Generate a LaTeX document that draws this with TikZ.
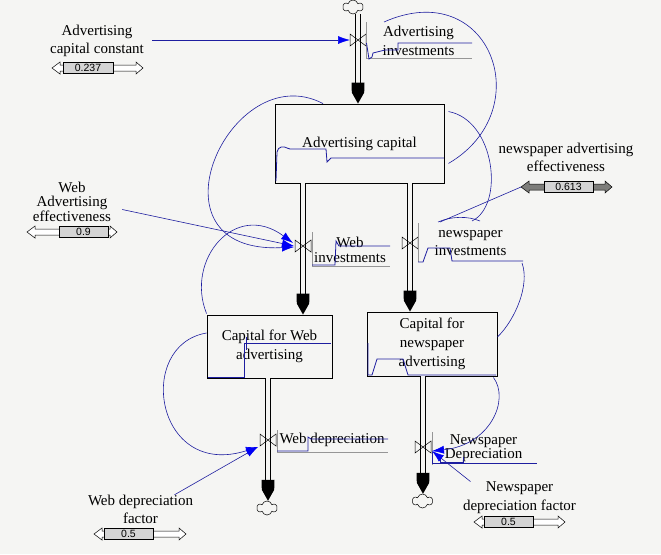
\documentclass[tikz,border=0pt]{standalone}
\usepackage{fontspec}
\setmainfont{Liberation Serif}
\newfontfamily\numfont{Liberation Sans}
\usetikzlibrary{arrows.meta,shapes.symbols,calc}
\definecolor{bg}{RGB}{245,245,243}
\definecolor{connc}{RGB}{30,30,160}
\definecolor{arrblue}{RGB}{0,0,245}
\definecolor{framec}{RGB}{150,150,150}
\definecolor{sbox}{RGB}{212,212,212}
\definecolor{darkarr}{RGB}{125,125,122}
\tikzset{
  stock/.style={draw=black, line width=0.9pt, fill=bg, inner sep=0pt, align=center, font=\fontsize{15}{19}\selectfont},
  lbl/.style={inner sep=0pt, align=center, font=\fontsize{15}{18.5}\selectfont},
  pipe/.style={draw=black, line width=1pt, double=bg, double distance=3.2pt},
  pipetip/.pic={\fill[black] (-6.5,-21) -- (6.5,-21) -- (6.2,-11) -- (0,0) -- (-6.2,-11) -- cycle;},
  connector/.style={draw=connc, line width=0.6pt},
  arrowed/.style={connector, -{Latex[length=12pt,width=8pt,color=arrblue]}},
  graphline/.style={draw=connc, line width=0.8pt},
  graphframe/.style={draw=framec, line width=0.6pt},
  sourcecloud/.style={cloud, cloud puffs=6, draw=black, line width=0.5pt, fill=bg, minimum width=20pt, minimum height=14pt, inner sep=0pt, aspect=1.4},
  valve/.pic={\draw[black, line width=0.5pt] (-8,-6) -- (8,6) -- (8,-6) -- (-8,6) -- cycle;},
  slidernum/.style={draw=black, line width=0.5pt, fill=sbox, inner sep=0pt, minimum height=11pt, font=\numfont\fontsize{10.5}{12}\selectfont},
}
\newcommand\mkslider[8]{%
  \draw[line width=0.5pt, fill=#8] (#2,#4) -- (#2+8,#4-6) -- (#2+8,#4-3) -- (#3-7,#4-3) -- (#3-7,#4-6) -- (#3,#4) -- (#3-7,#4+6) -- (#3-7,#4+3) -- (#2+8,#4+3) -- (#2+8,#4+6) -- cycle;
  \coordinate (#1tip) at (#2,#4);
  \node[slidernum, minimum width={(#6-#5)*1pt}] (#1) at ({(#5+#6)/2},#4) {#7};
}
\begin{document}
\begin{tikzpicture}[x=1pt,y=-1pt]
\fill[bg] (0,0) rectangle (661,554);
\useasboundingbox (0,0) rectangle (661,554);

% stocks
\node[stock, minimum width=169pt, minimum height=79pt] (AC) at (359.5,143.5) {Advertising capital};
\node[stock, minimum width=125pt, minimum height=63pt] (CW) at (269.5,346.5) {Capital for Web\\advertising};
\node[stock, minimum width=130pt, minimum height=64pt] (CN) at (432,344) {Capital for\\newspaper\\advertising};

% valves
\coordinate (vAI) at (358,40);
\coordinate (vWI) at (303,246);
\coordinate (vNI) at (410,243);
\coordinate (vWD) at (268,440);
\coordinate (vND) at (423,447);

% clouds
\node[sourcecloud] (cT) at (353,7) {};
\node[sourcecloud] (cW) at (267,508) {};
\node[sourcecloud] (cN) at (422.5,501) {};

% pipes
\draw[pipe] (vAI |- cT.south) -- ($(vAI |- AC.north)+(0,-18)$);
\pic at (vAI |- AC.north) {pipetip};
\draw[pipe] (vWI |- AC.south) -- ($(vWI |- CW.north)+(0,-18)$);
\pic at (vWI |- CW.north) {pipetip};
\draw[pipe] (vNI |- AC.south) -- ($(vNI |- CN.north)+(0,-18)$);
\pic at (vNI |- CN.north) {pipetip};
\draw[pipe] (vWD |- CW.south) -- ($(vWD |- cW.north)+(0,-18)$);
\pic at (vWD |- cW.north) {pipetip};
\draw[pipe] (vND |- CN.south) -- ($(vND |- cN.north)+(0,-18)$);
\pic at (vND |- cN.north) {pipetip};

\pic at (vAI) {valve};
\pic at (vWI) {valve};
\pic at (vNI) {valve};
\pic at (vWD) {valve};
\pic at (vND) {valve};

% labels
\node[lbl] (accL) at (97,41) {Advertising\\capital constant};
\node[lbl, font=\fontsize{15}{14.5}\selectfont] (waeL) at (72,201.5) {Web\\Advertising\\effectiveness};
\node[lbl] (naeL) at (566,157.5) {newspaper advertising\\effectiveness};
\node[lbl] (aiL) at (418.5,41) {Advertising\\investments};
\node[lbl, font=\fontsize{15}{15}\selectfont] (wiL) at (350,249.5) {Web\\investments};
\node[lbl] (niL) at (470.5,243) {newspaper\\investments};
\node[lbl] (wdL) at (332,440) {Web depreciation};
\node[lbl, font=\fontsize{15}{13}\selectfont] (ndL) at (483.5,448.5) {Newspaper\\Depreciation};
\node[lbl] (ndfL) at (519.5,497.5) {Newspaper\\depreciation factor};
\node[lbl] (wdfL) at (140.5,509.5) {Web depreciation\\factor};

% sliders
\mkslider{accS}{52}{143}{68}{63}{113}{0.237}{white}
\mkslider{waeS}{27}{117}{232}{59}{108}{0.9}{white}
\mkslider{naeS}{521}{612}{187}{544}{593}{0.613}{darkarr}
\mkslider{wdfS}{94}{186}{534}{104}{153}{0.5}{white}
\mkslider{ndfS}{474}{565}{522}{484}{533}{0.5}{white}

% graph overlays
\draw[graphframe] (366,22) -- (366,58) -- (472,58);
\draw[graphline] (366.5,43) -- (369,59) -- (372,57) -- (373,53) -- (385,50) -- (398,50) -- (398,43) -- (472,43);
\draw[graphline] (276,181) -- (277,152) .. controls (278,146) and (284,146) .. (287,148) -- (290,149) -- (326,149) -- (327,162) -- (331,158) -- (444,158);
\draw[graphframe] (312,232) -- (312,266) -- (390,266);
\draw[graphline] (312,265) -- (335,265) -- (336,241) -- (339,246) -- (390,246);
\draw[graphframe] (418,223) -- (418,262);
\draw[graphline] (418,262) -- (423,262) -- (428,248) -- (450,248) -- (452,261) -- (523,261);
\draw[graphline] (208,377) -- (244,377) -- (244,343) -- (331,343);
\draw[graphline] (246,337) -- (246,350);
\draw[graphline] (368,343) -- (368,375) -- (372,375) -- (377,359) -- (403,359) -- (408,375) -- (496,375);
\draw[graphframe] (277,430) -- (277,452) -- (388,452);
\draw[graphline] (277,451) -- (308,451) -- (308,437) -- (311,439) -- (388,439);
\draw[graphframe] (432,432) -- (432,465);
\draw[graphline] (432,452) -- (432,463) -- (537,463);
\draw[graphline] (440,455) -- (440,462) -- (463,462) -- (463,457);

% connector end points
\coordinate (aiA) at (384,22);
\coordinate (niA) at (472,221);
\coordinate (niB) at (440,222);
\coordinate (niC) at (522,263);

% connectors
\draw[arrowed] ($(accL.east |- vAI)+(8,0)$) -- ([xshift=-8pt]vAI);
\draw[connector] ([shift={(4,-20)}]AC.south east) .. controls (540,110) and (490,-25) .. (aiA);
\draw[arrowed] ([xshift=-36.5pt]AC.north) .. controls (230,55) and (140,255) .. ([shift={(-9,1)}]vWI);
\draw[arrowed] ($(waeL.east)+(11,8)$) -- ([shift={(-9,0)}]vWI);
\draw[arrowed] ([shift={(0,-1)}]CW.north west) .. controls (185,260) and (235,200) .. ([shift={(-10,-3)}]vWI);
\draw[connector] ([shift={(4,8)}]AC.north east) .. controls (495,120) and (505,205) .. (niA);
\draw[connector] (naeStip) -- (niB);
\draw[connector] ([shift={(-2,0)}]niB) .. controls (452,216) and (468,216) .. ([shift={(8,0)}]niA);
\draw[connector] ([shift={(0,-7)}]CN.east) .. controls (515,320) and (530,285) .. (niC);
\draw[arrowed] ([shift={(0,-13.5)}]CW.west) .. controls (135,345) and (155,480) .. ([shift={(-10,7)}]vWD);
\draw[arrowed] ($(wdfL.north)+(34,0)$) -- ([shift={(-10,7)}]vWD);
\draw[arrowed] ([shift={(-4,1)}]CN.south east) .. controls (510,400) and (490,445) .. ([shift={(9,4)}]vND);
\draw[arrowed] ($(ndfL.north)+(-49,0)$) -- ([shift={(9,4)}]vND);
\end{tikzpicture}
\end{document}
